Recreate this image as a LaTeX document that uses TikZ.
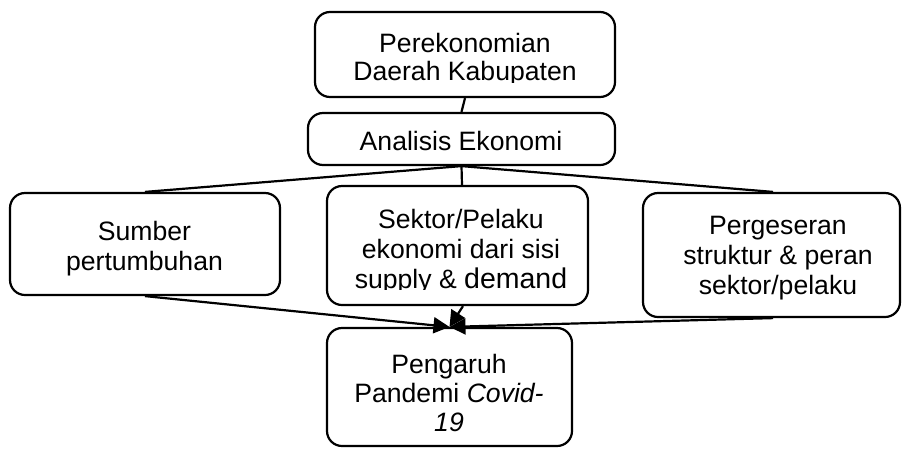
\documentclass[tikz,border=0pt]{standalone}
\usepackage{fontspec}
\setmainfont{Liberation Sans}
\usetikzlibrary{arrows.meta}
\begin{document}
\begin{tikzpicture}[x=1pt,y=-1pt,
  box/.style={draw, line width=2.2pt, rounded corners=15pt, inner sep=0pt},
  txt/.style={align=center, inner sep=0pt, anchor=north},
  con/.style={line width=2.2pt},
  arr/.style={con, -{Triangle[length=16pt,width=16pt]}}]
\useasboundingbox (0,0) rectangle (902,448);
% boxes
\node[box, minimum width=300pt, minimum height=85pt] (top) at (465,54.5) {};
\node[box, minimum width=307pt, minimum height=52pt] (ana) at (461.5,139) {};
\node[box, minimum width=270pt, minimum height=102pt] (left) at (145,244) {};
\node[box, minimum width=261pt, minimum height=119pt] (mid) at (457.5,245.5) {};
\node[box, minimum width=257pt, minimum height=124pt] (right) at (771.5,255) {};
\node[box, minimum width=245pt, minimum height=118pt] (bot) at (449.5,387) {};
% texts
\begin{scope}
  \clip (315,0) rectangle (615,82);
  \node[txt, font=\fontsize{26.6}{28}\selectfont] (ttop) at (465,33) {Perekonomian\\Daerah Kabupaten};
\end{scope}
\node[txt, font=\fontsize{26.6}{29}\selectfont] (tana) at (461,131) {Analisis Ekonomi};
\node[txt, font=\fontsize{26.6}{30}\selectfont] (tleft) at (144.5,220.6) {Sumber\\pertumbuhan};
\begin{scope}
  \clip (327,186) rectangle (588,289);
  \node[txt, font=\fontsize{26.6}{30}\selectfont] (tmid) at (461,209) {Sektor/Pelaku\\ekonomi dari sisi\\supply \& {\fontsize{28.5}{30}\selectfont demand}};
\end{scope}
\node[txt, font=\fontsize{26.6}{30}\selectfont] (tright) at (778,216) {Pergeseran\\struktur \& peran\\sektor/pelaku};
\node[txt, font=\fontsize{26.6}{29}\selectfont] (tbot) at (449,353.6) {Pengaruh\\Pandemi \textit{Covid-}\\\textit{19}};
% connectors
\draw[con] (top.south) -- (ana.north);
\draw[con] (ana.south) -- (left.north);
\draw[con] (ana.south) -- ([xshift=4.5pt]mid.north);
\draw[con] (ana.south) -- ([xshift=1.5pt]right.north);
\draw[arr] (left.south) -- (bot.north);
\draw[arr] ([xshift=5.5pt]mid.south) -- (bot.north);
\draw[arr] ([xshift=1.5pt]right.south) -- (bot.north);
\end{tikzpicture}
\end{document}
